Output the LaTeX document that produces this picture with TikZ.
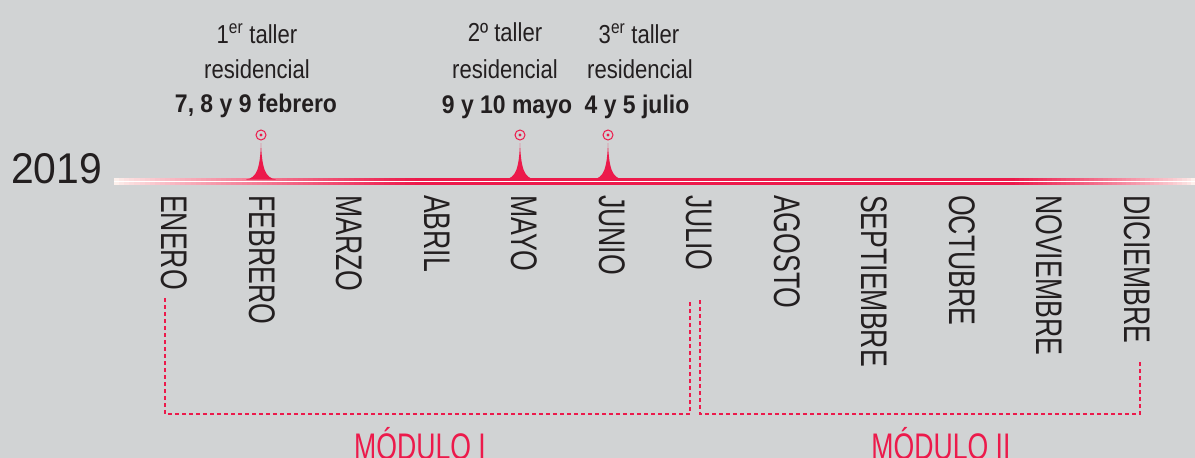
\documentclass[tikz,border=0pt]{standalone}
\usepackage{fontspec}
\setmainfont{Liberation Sans}
\newfontfamily\monthfont[FakeStretch=0.72]{Liberation Sans}
\newfontfamily\labfont[FakeStretch=0.85]{Liberation Sans}
\newfontfamily\datefont[FakeStretch=0.9]{Liberation Sans}
\newfontfamily\yearfont[FakeStretch=0.95]{Liberation Sans}
\definecolor{bg}{HTML}{D1D3D4}
\definecolor{crim}{HTML}{EC1A4B}
\definecolor{ink}{HTML}{231F20}
\definecolor{pale}{HTML}{FDF0EC}
\begin{document}
\begin{tikzpicture}[x=1pt,y=-1pt,
  month/.style={rotate=-90,anchor=base west,inner sep=0pt,text=ink,font=\monthfont\fontsize{37}{37}\selectfont},
  lab/.style={anchor=base,inner sep=0pt,text=ink,font=\labfont\fontsize{26}{26}\selectfont},
  datelab/.style={anchor=base,inner sep=0pt,text=ink,font=\datefont\bfseries\fontsize{25.5}{25.5}\selectfont},
  modlab/.style={anchor=base,inner sep=0pt,text=crim,font=\monthfont\fontsize{37}{37}\selectfont},
  bracket/.style={draw=crim,line width=1.1pt,dash pattern=on 4pt off 3pt},
  marker/.style={circle,draw=crim,line width=1pt,minimum size=10pt,inner sep=0pt},
  ]
\fill[bg] (0,0) rectangle (1195,458);
\useasboundingbox (0,0) rectangle (1195,458);
% band: left fade, solid middle, right fade
\foreach \i in {0,...,59}{
  \pgfmathsetmacro\t{100*(\i/59)^0.8}
  \fill[crim!\t!pale] ({114+\i*5.1},177.7) rectangle ({114+\i*5.1+5.4},185);
}
\fill[crim] (419,177.7) rectangle (1011,185);
\foreach \i in {0,...,39}{
  \pgfmathsetmacro\t{100*(1-\i/39)^0.8}
  \fill[crim!\t!pale] ({1010+\i*4.65},177.7) rectangle ({1010+\i*4.65+4.9},185);
}
\fill[white] (114,180.8) rectangle (1195,181.9);
% spikes and markers
\foreach \x/\n in {261/1,520/2,608/3}{
  \fill[crim] (\x-15,179.5) .. controls (\x-4,178) and (\x-1,168) .. (\x,143)
     .. controls (\x+1,168) and (\x+4,178) .. (\x+15,179.5) -- cycle;
  \node[marker] (p\n) at (\x,135) {};
  \fill[crim] (p\n.center) circle (1.7);
}
% labels
\node[lab] (a1) at (257,43) {1\textsuperscript{er} taller};
\node[lab] (b1) at (257,78) {residencial};
\node[datelab] (c1) at (256,112) {7, 8 y 9 febrero};
\node[lab] (a2) at (505,41) {2º taller};
\node[lab] (b2) at (505,78) {residencial};
\node[datelab] (c2) at (507,113) {9 y 10 mayo};
\node[lab] (a3) at (639,43) {3\textsuperscript{er} taller};
\node[lab] (b3) at (640,78) {residencial};
\node[datelab] (c3) at (637,113) {4 y 5 julio};
% year
\node[anchor=base west,inner sep=0pt,text=ink,font=\yearfont\fontsize{43}{43}\selectfont] (yr) at (11,183.5) {2019};
% months
\foreach \name [count=\i] in {ENERO,FEBRERO,MARZO,ABRIL,MAYO,JUNIO,JULIO,AGOSTO,SEPTIEMBRE,OCTUBRE,NOVIEMBRE,DICIEMBRE}{
  \node[month] (m\i) at ({161.5+87.5*(\i-1)},195) {\name};
}
% brackets
\coordinate (b1a) at (165,298);
\coordinate (b1b) at (165,414);
\coordinate (b1c) at (690,414);
\coordinate (b1d) at (690,300);
\coordinate (b2a) at (700,300);
\coordinate (b2b) at (700,414);
\coordinate (b2c) at (1140,414);
\coordinate (b2d) at (1140,362);
\draw[bracket] (b1a) -- (b1b) -- (b1c) -- (b1d);
\draw[bracket] (b2a) -- (b2b) -- (b2c) -- (b2d);
\node[modlab] (mod1) at (420,459) {MÓDULO I};
\node[modlab] (mod2) at (941,459) {MÓDULO II};
\end{tikzpicture}
\end{document}
